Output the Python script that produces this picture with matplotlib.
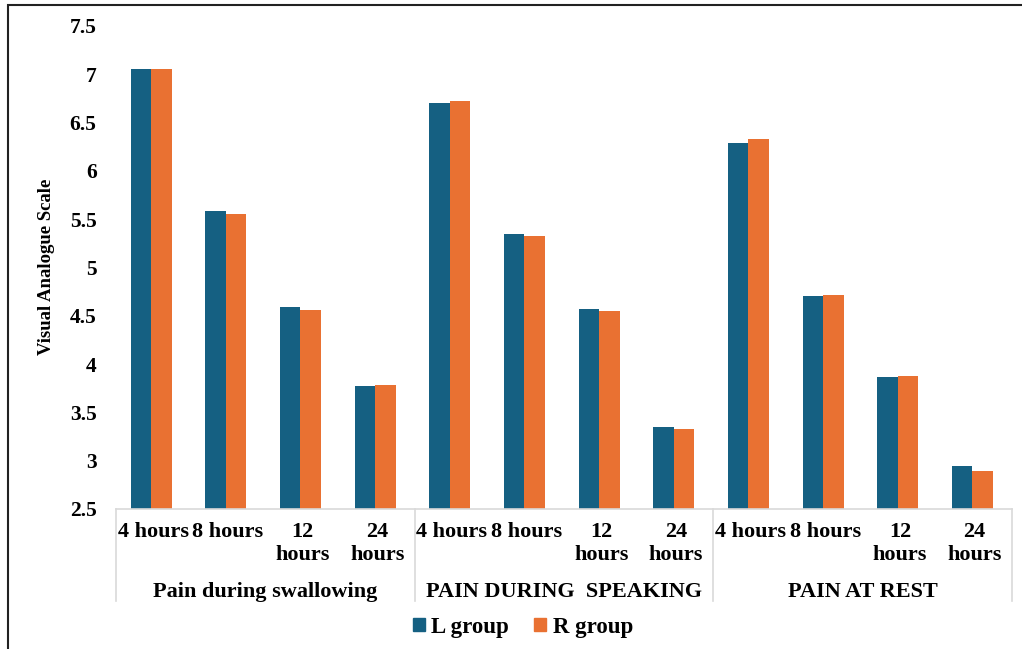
import matplotlib
matplotlib.use('Agg')
import matplotlib.pyplot as plt
from matplotlib.patches import Patch, Rectangle
from matplotlib.lines import Line2D

plt.rcParams['font.family'] = ['Liberation Serif', 'DejaVu Serif']
plt.rcParams['font.weight'] = 'bold'

groups = ["Pain during swallowing", "PAIN DURING  SPEAKING", "PAIN AT REST"]
times = ["4 hours", "8 hours", "12\nhours", "24\nhours"]

# VAS means per group, 4/8/12/24 hours
l_group = [7.05, 5.58, 4.59, 3.77,
           6.70, 5.35, 4.57, 3.35,
           6.29, 4.70, 3.87, 2.94]
r_group = [7.05, 5.55, 4.56, 3.78,
           6.72, 5.33, 4.55, 3.33,
           6.33, 4.72, 3.88, 2.89]

blue = '#156082'
orange = '#E97132'
grey_line = '#D9D9D9'
fs = 16

fig = plt.figure(figsize=(10.22, 6.49), dpi=100)
ax = fig.add_axes([116 / 1022, 1 - 509 / 649, 896 / 1022, 483 / 649])

x = list(range(len(l_group)))
w = 0.275
ax.bar([i - w / 2 - 0.03 for i in x], l_group, width=w, bottom=0, color=blue)
ax.bar([i + w / 2 - 0.03 for i in x], r_group, width=w, bottom=0, color=orange)

ax.set_ylim(2.5, 7.5)
ax.set_xlim(-0.5, len(x) - 0.5)
ax.set_yticks([2.5 + 0.5 * k for k in range(11)])
ax.set_yticklabels(['2.5', '3', '3.5', '4', '4.5', '5', '5.5', '6', '6.5', '7', '7.5'])
ax.tick_params(axis='y', length=0, pad=14, labelsize=15.5)
ax.set_xticks([])

for s in ['top', 'right', 'left']:
    ax.spines[s].set_visible(False)
ax.spines['bottom'].set_color(grey_line)
ax.spines['bottom'].set_linewidth(1.2)

# two-level category axis
tr = ax.get_xaxis_transform()
for i in x:
    ax.text(i, -0.026, times[i % 4], transform=tr, ha='center', va='top',
            fontsize=fs, linespacing=1.2, clip_on=False)
for g, name in enumerate(groups):
    ax.text(4 * g + 1.5, -0.172, name, transform=tr, ha='center', va='center',
            fontsize=fs, clip_on=False)
for b in [-0.5, 3.5, 7.5, 11.5]:
    ax.add_line(Line2D([b, b], [0, -0.19], transform=tr, color=grey_line,
                       lw=1.2, clip_on=False))

fig.text(47 / 1022, 1 - 267 / 649, "Visual Analogue Scale", rotation=90,
         ha='center', va='center', fontsize=13.5)

handles = [Patch(color=blue, label='L group'), Patch(color=orange, label='R group')]
fig.legend(handles=handles, loc='center', bbox_to_anchor=(523 / 1022, 1 - 627 / 649),
           ncol=2, frameon=False, fontsize=16.5, handlelength=0.5, handleheight=0.5,
           handletextpad=0.3, columnspacing=1.1)

# chart frame
fig.add_artist(Rectangle((8 / 1022, -0.1), 1.2, 1 - 5 / 649 + 0.1,
                         transform=fig.transFigure, fill=False,
                         edgecolor='#222222', lw=1.5))

fig.savefig('out.png', dpi=100, facecolor='white')
